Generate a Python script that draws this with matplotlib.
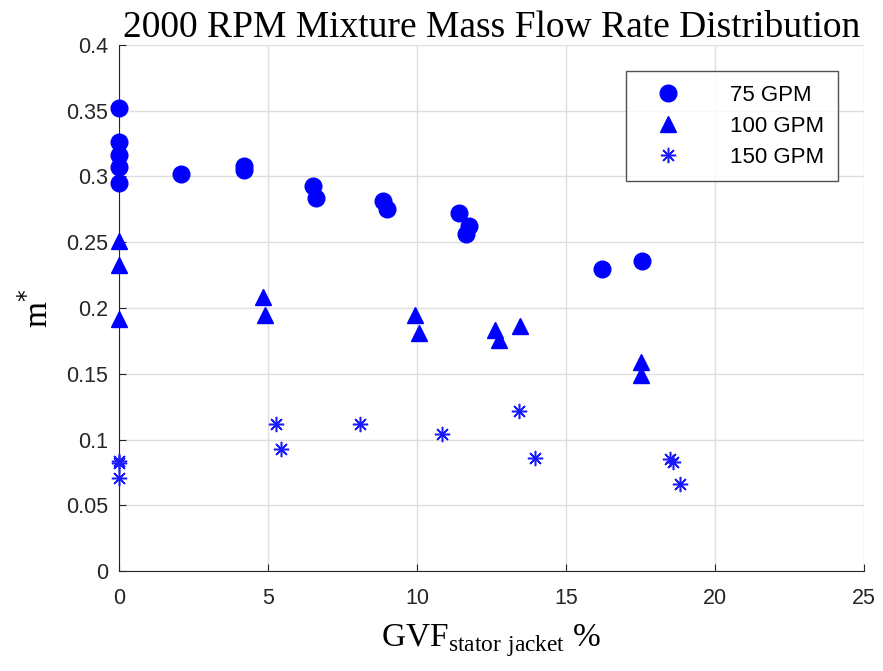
import numpy as np
import matplotlib
matplotlib.use('Agg')
import matplotlib.pyplot as plt

# 75 GPM
gvf_75 = [0, 0, 0, 0, 0, 2.08, 4.2, 4.2, 6.5, 6.6, 8.86, 9.0, 11.4, 11.75, 11.65, 16.2, 17.55]
m_75 = [0.352, 0.326, 0.316, 0.307, 0.295, 0.302, 0.308, 0.305, 0.293, 0.284,
        0.281, 0.275, 0.272, 0.262, 0.256, 0.230, 0.236]

# 100 GPM
gvf_100 = [0, 0, 0, 4.83, 4.9, 9.93, 10.07, 12.6, 12.75, 13.45, 17.5, 17.5]
m_100 = [0.251, 0.233, 0.192, 0.208, 0.195, 0.195, 0.181, 0.183, 0.176, 0.186, 0.159, 0.149]

# 150 GPM
gvf_150 = [0, 0, 0, 5.27, 5.44, 8.08, 10.85, 13.42, 13.96, 18.5, 18.6, 18.83]
m_150 = [0.084, 0.082, 0.071, 0.112, 0.093, 0.112, 0.104, 0.122, 0.086, 0.085, 0.083, 0.066]

xticks = [0, 5, 10, 15, 20, 25]
yticks = [0, 0.05, 0.1, 0.15, 0.2, 0.25, 0.3, 0.35, 0.4]
ytick_labels = ['0', '0.05', '0.1', '0.15', '0.2', '0.25', '0.3', '0.35', '0.4']

fig = plt.figure(figsize=(8.83, 6.71), dpi=100)
ax = fig.add_axes([0.1348, 0.149, 0.8437, 0.784])

ax.plot(gvf_75, m_75, 'o', color='blue', markersize=12, label='75 GPM', clip_on=False, zorder=3)
ax.plot(gvf_100, m_100, '^', color='blue', markersize=12, label='100 GPM', clip_on=False, zorder=3)
# MATLAB-style '*' marker: + and x overlaid
ax.plot(gvf_150, m_150, marker=(8, 2, 0), linestyle='none', color='#1a1aff', markersize=11,
        markeredgewidth=1.1, label='150 GPM', clip_on=False, zorder=3)

ax.set_xlim(0, 25)
ax.set_ylim(0, 0.4)
ax.set_xticks(xticks)
ax.set_yticks(yticks)
ax.set_xticklabels([str(t) for t in xticks])
ax.set_yticklabels(ytick_labels)
ax.tick_params(labelsize=15.5, direction='in', length=5, colors='#262626')
ax.tick_params(axis='y', pad=8)
ax.tick_params(axis='x', pad=12)
for lbl in ax.get_xticklabels() + ax.get_yticklabels():
    lbl.set_family('Liberation Sans')
ax.grid(True, color='#dedede', linewidth=1)
ax.set_axisbelow(True)
ax.spines['top'].set_visible(False)
ax.spines['right'].set_visible(False)
ax.spines['left'].set_color('#262626')
ax.spines['bottom'].set_color('#262626')

ax.set_title('2000 RPM Mixture Mass Flow Rate Distribution', family='Liberation Serif',
             fontsize=27, pad=5)
ax.set_xlabel(r'GVF$_{\mathregular{stator\ jacket}}$ %', family='Liberation Serif',
              fontsize=24, labelpad=10)
ax.set_ylabel(r'm$^{*}$', family='Liberation Serif', fontsize=24, labelpad=8)

leg = ax.legend(loc='upper right', bbox_to_anchor=(0.965, 0.95),
                prop={'family': 'Liberation Sans', 'size': 16},
                frameon=True, fancybox=False, edgecolor='#262626',
                handlelength=2.6, handletextpad=1.5, borderpad=0.6,
                labelspacing=0.45, borderaxespad=0)
leg.get_frame().set_linewidth(1)

fig.savefig('out.png', dpi=100)
